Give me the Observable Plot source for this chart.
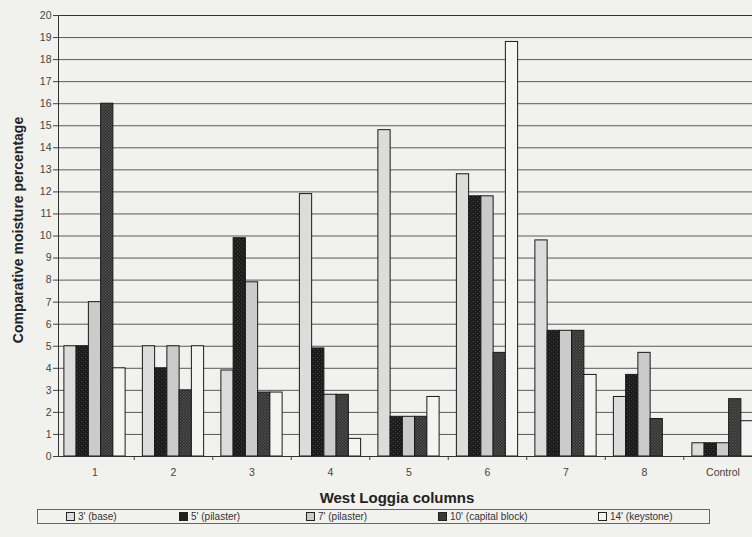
<!DOCTYPE html>
<html>
<head>
<meta charset="utf-8">
<script src="https://cdn.jsdelivr.net/npm/d3@7"></script>
<script src="https://cdn.jsdelivr.net/npm/@observablehq/plot@0.6"></script>
<style>
  html, body { margin: 0; padding: 0; background: #f1f1ed; overflow: hidden; }
  #wrap { position: relative; width: 752px; height: 537px; overflow: hidden; font-family: "Liberation Sans", Arial, sans-serif; }
  #chart { position: absolute; left: 0; top: 0; width: 770px; }
  #chart svg { max-width: none !important; }
  #ylab { position: absolute; left: 18px; top: 230px; transform: translate(-50%, -50%) rotate(-90deg); white-space: nowrap; font-weight: bold; font-size: 14px; color: #222; }
  #xlab { position: absolute; left: 397px; top: 497px; transform: translate(-50%, -50%); white-space: nowrap; font-weight: bold; font-size: 15px; color: #222; }
  #legend { position: absolute; left: 37px; top: 509px; width: 673px; height: 15px; border: 1px solid #666; box-sizing: border-box; }
  .item { position: absolute; top: 1px; font-size: 10px; color: #333; white-space: nowrap; font-family: "Liberation Sans Narrow", "Liberation Sans", Arial, sans-serif; line-height: 12px; }
  .sw { display: inline-block; width: 7px; height: 7px; border: 1px solid #222; margin-right: 3px; vertical-align: -1px; }
</style>
</head>
<body>
<div id="wrap">
  <div id="chart"></div>
  <div id="ylab">Comparative moisture percentage</div>
  <div id="xlab">West Loggia columns</div>
  <div id="legend"></div>
</div>
<script>
const groups = ["1", "2", "3", "4", "5", "6", "7", "8", "Control"];
const seriesNames = ["3' (base)", "5' (pilaster)", "7' (pilaster)", "10' (capital block)", "14' (keystone)"];
const base3 = [5, 5, 3.9, 11.9, 14.8, 12.8, 9.8, 2.7, 0.6];
const pilaster5 = [5, 4, 9.9, 4.9, 1.8, 11.8, 5.7, 3.7, 0.6];
const pilaster7 = [7, 5, 7.9, 2.8, 1.8, 11.8, 5.7, 4.7, 0.6];
const capital10 = [16, 3, 2.9, 2.8, 1.8, 4.7, 5.7, 1.7, 2.6];
const keystone14 = [4, 5, 2.9, 0.8, 2.7, 18.8, 3.7, null, 1.6];
const yTicks = d3.range(0, 21);

const seriesValues = [base3, pilaster5, pilaster7, capital10, keystone14];
const fills = ["#dcdcdc", "url(#p5)", "#cbcbcb", "url(#p10)", "#f4f4f2"];
const swatchFills = ["#dcdcdc", "#1e1e1e", "#cbcbcb", "#3a3a3a", "#f4f4f2"];

const groupWidth = 0.78;
const barW = groupWidth / seriesNames.length;

const rows = [];
seriesValues.forEach((vals, j) => {
  vals.forEach((v, i) => {
    if (v == null) return;
    const x1 = i - groupWidth / 2 + j * barW;
    rows.push({series: j, group: groups[i], x1, x2: x1 + barW, value: v});
  });
});

const width = 770, marginLeft = 58, marginRight = 0;
const step = 78.5;
const xMin = -(94.5 - marginLeft) / step;
const xMax = xMin + (width - marginLeft - marginRight) / step;

const chart = Plot.plot({
  width, height: 506,
  marginLeft, marginRight, marginTop: 15, marginBottom: 50,
  style: {background: "transparent", fontFamily: "'Liberation Sans', Arial, sans-serif", fontSize: "10.5px", color: "#444", maxWidth: "none"},
  x: {domain: [xMin, xMax], axis: null},
  y: {domain: [0, 20], axis: null},
  marks: [
    Plot.ruleY(yTicks.slice(1), {stroke: "#5a5a5a", strokeWidth: 1}),
    ...seriesValues.map((_, j) => Plot.rectY(rows.filter(d => d.series === j), {
      x1: "x1", x2: "x2", y1: 0, y2: "value",
      fill: fills[j], stroke: "#1a1a1a", strokeWidth: 1
    })),
    Plot.axisY({ticks: yTicks, tickSize: 5, tickPadding: 2, label: null, fontSize: 10.5}),
    Plot.axisX({ticks: d3.range(0, groups.length), tickFormat: i => groups[i], tickSize: 0, tickPadding: 12, label: null}),
    Plot.axisX({ticks: d3.range(0, groups.length).map(i => i + 0.5), tickFormat: () => "", tickSize: 4, label: null}),
    Plot.frame({stroke: "#333", strokeWidth: 1})
  ]
});

// SVG patterns for the dark textured series
const ns = "http://www.w3.org/2000/svg";
const defs = document.createElementNS(ns, "defs");
defs.innerHTML = `
  <pattern id="p5" width="4" height="4" patternUnits="userSpaceOnUse">
    <rect width="4" height="4" fill="#1c1c1c"/>
    <rect x="1" y="1" width="1" height="1" fill="#4a4a4a"/>
    <rect x="3" y="3" width="1" height="1" fill="#3a3a3a"/>
  </pattern>
  <pattern id="p10" width="3" height="3" patternUnits="userSpaceOnUse">
    <rect width="3" height="3" fill="#2c2c2c"/>
    <rect x="0" y="0" width="1.5" height="1.5" fill="#555"/>
    <rect x="1.5" y="1.5" width="1.5" height="1.5" fill="#4d4d4d"/>
  </pattern>`;
chart.insertBefore(defs, chart.firstChild);
document.getElementById("chart").appendChild(chart);

// legend
const legendX = [28, 141, 268, 400, 560];
const legend = document.getElementById("legend");
seriesNames.forEach((name, j) => {
  const it = document.createElement("div");
  it.className = "item";
  it.style.left = legendX[j] + "px";
  const sw = document.createElement("span");
  sw.className = "sw";
  sw.style.background = swatchFills[j];
  it.appendChild(sw);
  it.appendChild(document.createTextNode(name));
  legend.appendChild(it);
});
</script>
</body>
</html>
